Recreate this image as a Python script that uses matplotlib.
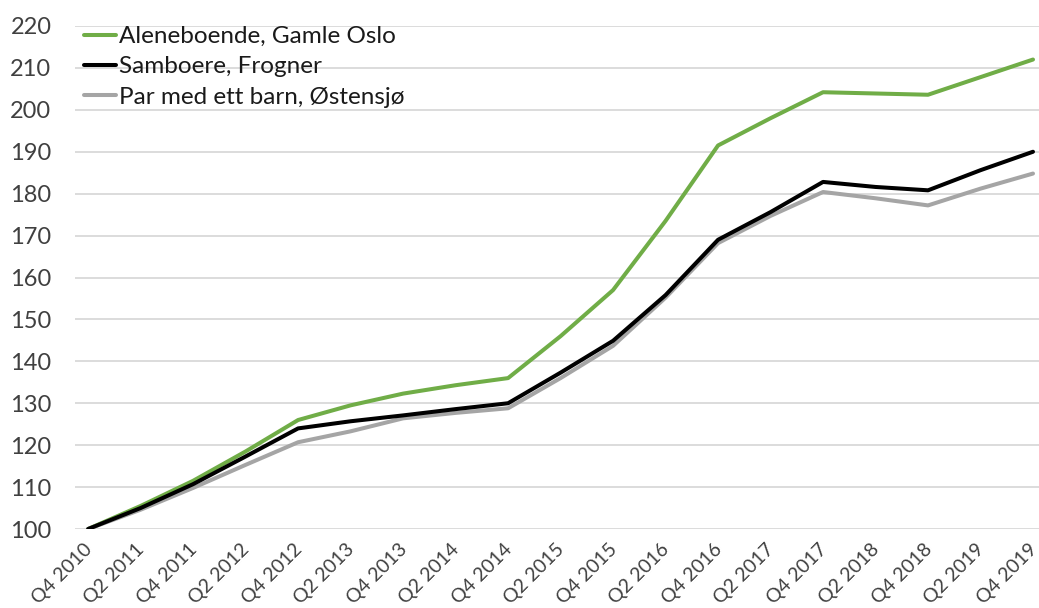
import numpy as np
import matplotlib
matplotlib.use("Agg")
import matplotlib.pyplot as plt
from matplotlib.transforms import ScaledTranslation, blended_transform_factory

plt.rcParams['font.family'] = ['Lato', 'DejaVu Sans']

# Kvartaler (hvert halvår)
kvartaler = ['Q4 2010', 'Q2 2011', 'Q4 2011', 'Q2 2012', 'Q4 2012', 'Q2 2013',
             'Q4 2013', 'Q2 2014', 'Q4 2014', 'Q2 2015', 'Q4 2015', 'Q2 2016',
             'Q4 2016', 'Q2 2017', 'Q4 2017', 'Q2 2018', 'Q4 2018', 'Q2 2019',
             'Q4 2019']

aleneboende = [100, 105.5, 111.5, 118.5, 126.0, 129.5, 132.3, 134.3, 136.0, 146.0,
               157.0, 173.5, 191.5, 198.0, 204.2, 203.9, 203.6, 207.8, 212.0]
samboere = [100, 105.0, 110.7, 117.3, 124.0, 125.7, 127.1, 128.6, 130.0, 137.3,
            144.9, 155.8, 169.0, 175.6, 182.8, 181.6, 180.8, 185.6, 190.0]
par_med_barn = [100, 104.6, 109.8, 115.3, 120.7, 123.3, 126.4, 127.7, 128.8, 136.0,
                143.7, 155.2, 168.2, 174.7, 180.4, 178.9, 177.2, 181.2, 184.8]

serier = ['Aleneboende, Gamle Oslo', 'Samboere, Frogner', 'Par med ett barn, Østensjø']
farger = ['#70ad47', '#000000', '#a5a5a5']

x = np.arange(len(kvartaler))

fig = plt.figure(figsize=(10.39, 6.08), dpi=100)
ax = fig.add_axes([75/1039, 79/608, (1039-75)/1039, (529-26)/608])

for i, (navn, data) in enumerate(zip(serier, [aleneboende, samboere, par_med_barn])):
    z = {0: 3, 1: 4, 2: 3.5}[i]
    ax.plot(x, data, color=farger[i], lw=2.9, label=navn, zorder=z,
            solid_joinstyle='round', solid_capstyle='round')

ax.set_ylim(100, 220)
ax.set_yticks(np.arange(100, 221, 10))
ax.set_xlim(-0.25, 18 + 6/52.5)
ax.set_xticks(x)
ax.set_xticklabels([])

# x-etiketter som tekst, litt forskjøvet mot venstre og ned
trans = blended_transform_factory(ax.transData, ax.transAxes) + \
    ScaledTranslation(-5/100, -12/100, fig.dpi_scale_trans)
for xi, navn in zip(x, kvartaler):
    ax.text(xi, 0, navn, transform=trans, rotation=45, ha='right', va='top',
            rotation_mode='anchor', fontsize=14, color='#404040')

ax.grid(axis='y', color='#d9d9d9', lw=1.3)
ax.set_axisbelow(True)
for s in ax.spines.values():
    s.set_visible(False)
ax.tick_params(axis='both', length=0, colors='#404040')
ax.tick_params(axis='y', pad=17, labelsize=17)

leg = ax.legend(loc='upper left', bbox_to_anchor=(84/1039, 1 - 26/608),
                bbox_transform=fig.transFigure, frameon=False, fontsize=17.5,
                handlelength=1.3, handletextpad=0.15, labelspacing=0.38,
                borderaxespad=0, borderpad=0)
for t in leg.get_texts():
    t.set_color('#1a1a1a')

fig.savefig('out.png', dpi=100)
